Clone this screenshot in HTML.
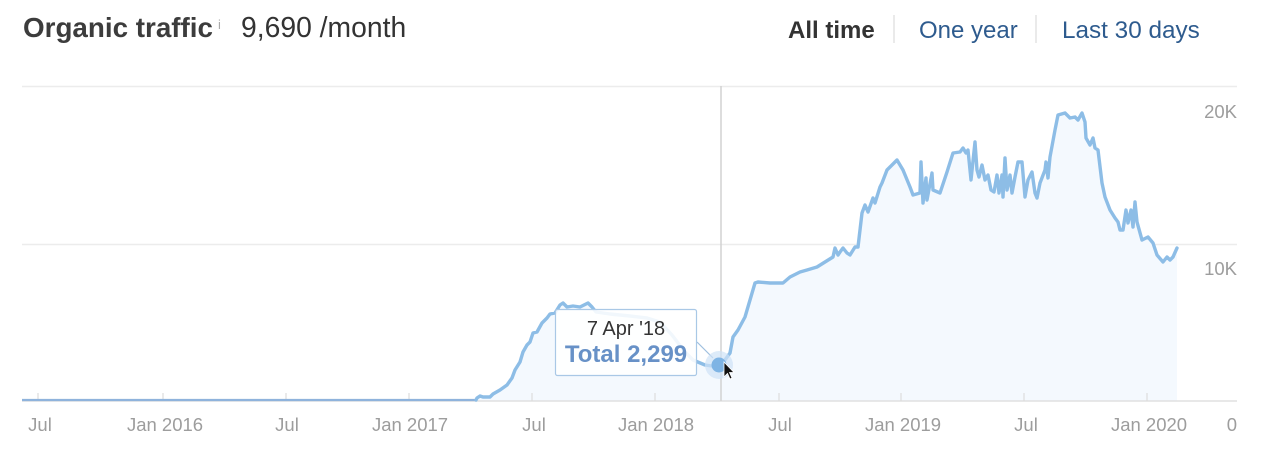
<!DOCTYPE html>
<html>
<head>
<meta charset="utf-8">
<style>
  html,body{margin:0;padding:0;background:#fff;}
  body{width:1264px;height:458px;overflow:hidden;position:relative;font-family:"Liberation Sans",Arial,sans-serif;}
  svg{position:absolute;left:0;top:0;}
</style>
</head>
<body>
<svg width="1264" height="458" viewBox="0 0 1264 458" xmlns="http://www.w3.org/2000/svg" font-family="Liberation Sans, Arial, sans-serif">
  <!-- header -->
  <text x="23" y="37" font-size="27.8" font-weight="bold" fill="#3c3c3c">Organic traffic</text>
  <text x="218" y="29" font-size="13" fill="#aaa">i</text>
  <text x="241" y="37" font-size="28.3" fill="#333">9,690 /month</text>

  <text x="788" y="38" font-size="24" font-weight="bold" fill="#333">All time</text>
  <line x1="894" y1="15" x2="894" y2="43" stroke="#e2e2e2" stroke-width="1.5"/>
  <text x="919" y="38" font-size="24" fill="#2e5b8e">One year</text>
  <line x1="1036" y1="15" x2="1036" y2="43" stroke="#e2e2e2" stroke-width="1.5"/>
  <text x="1062" y="38" font-size="24.3" fill="#2e5b8e">Last 30 days</text>

  <!-- grid -->
  <line x1="22" y1="86.5" x2="1237" y2="86.5" stroke="#ececec" stroke-width="1.5"/>
  <line x1="22" y1="244.5" x2="1237" y2="244.5" stroke="#ececec" stroke-width="1.5"/>

  <!-- area -->
  <path fill="#f4f9fe" d="M22,401 L22,400 L476,400 L477,398 L480,396 L483,397 L490,397 L493,394 L500,390 L507,385 L512,378 L515,370 L520,362 L523,352 L527,345 L530,342 L533,333 L537,332 L542,323 L547,318 L550,314 L555,313 L560,305 L563,303 L567,307 L573,306 L580,307 L588,303 L592,307 L596,312 L610,314 L630,316 L647,318 L660,322 L672,335 L685,352 L693,360 L705,365 L712,366 L719,365 L725,360 L730,353 L733,337 L738,330 L745,317 L750,300 L755,283 L758,282 L770,283 L783,283 L790,277 L800,272 L807,270 L817,267 L825,262 L833,257 L835,248 L838,255 L840,252 L843,248 L847,253 L850,255 L855,247 L858,247 L860,230 L862,213 L865,205 L868,212 L873,198 L875,203 L880,187 L882,183 L887,170 L890,167 L895,162 L897,160 L900,165 L903,170 L910,187 L913,195 L920,193 L921,162 L923,203 L926,178 L927,200 L932,173 L933,190 L940,193 L947,172 L953,153 L960,152 L963,148 L966,153 L968,150 L971,180 L975,142 L977,170 L979,177 L982,165 L985,180 L988,175 L991,190 L994,192 L997,175 L999,193 L1002,175 L1003,197 L1005,158 L1007,190 L1010,175 L1012,193 L1015,177 L1018,162 L1022,162 L1025,197 L1028,180 L1032,172 L1035,193 L1037,198 L1040,183 L1045,170 L1046,162 L1048,178 L1050,157 L1055,130 L1058,115 L1065,113 L1070,118 L1075,117 L1078,120 L1082,113 L1085,122 L1086,138 L1090,145 L1093,138 L1095,148 L1098,150 L1102,183 L1105,197 L1110,210 L1115,218 L1118,222 L1120,230 L1123,230 L1126,210 L1128,223 L1131,210 L1133,227 L1135,202 L1137,222 L1142,240 L1148,237 L1153,243 L1157,255 L1163,262 L1167,257 L1170,260 L1173,257 L1177,248 L1177,401 Z"/>

  <!-- baseline & ticks -->
  <line x1="22" y1="401" x2="1237" y2="401" stroke="#e0e0e0" stroke-width="1.5"/>
  <g stroke="#dcdcdc" stroke-width="1.2">
    <line x1="38" y1="393" x2="38" y2="401"/>
    <line x1="163" y1="393" x2="163" y2="401"/>
    <line x1="286" y1="393" x2="286" y2="401"/>
    <line x1="409" y1="393" x2="409" y2="401"/>
    <line x1="532" y1="393" x2="532" y2="401"/>
    <line x1="655" y1="393" x2="655" y2="401"/>
    <line x1="779" y1="393" x2="779" y2="401"/>
    <line x1="901" y1="393" x2="901" y2="401"/>
    <line x1="1024" y1="393" x2="1024" y2="401"/>
    <line x1="1147" y1="393" x2="1147" y2="401"/>
  </g>

  <!-- crosshair -->
  <line x1="721" y1="86" x2="721" y2="401" stroke="#d2d2d2" stroke-width="1.5"/>

  <!-- flat part (thinner) -->
  <path fill="none" stroke="#8fb3dc" stroke-width="2.2" d="M22,400 L476,400"/>
  <!-- line -->
  <path fill="none" stroke="#8dbde6" stroke-width="3.4" stroke-linejoin="round" stroke-linecap="round" d="M476,400 L477,398 L480,396 L483,397 L490,397 L493,394 L500,390 L507,385 L512,378 L515,370 L520,362 L523,352 L527,345 L530,342 L533,333 L537,332 L542,323 L547,318 L550,314 L555,313 L560,305 L563,303 L567,307 L573,306 L580,307 L588,303 L592,307 L596,312 L610,314 L630,316 L647,318 L660,322 L672,335 L685,352 L693,360 L705,365 L712,366 L719,365 L725,360 L730,353 L733,337 L738,330 L745,317 L750,300 L755,283 L758,282 L770,283 L783,283 L790,277 L800,272 L807,270 L817,267 L825,262 L833,257 L835,248 L838,255 L840,252 L843,248 L847,253 L850,255 L855,247 L858,247 L860,230 L862,213 L865,205 L868,212 L873,198 L875,203 L880,187 L882,183 L887,170 L890,167 L895,162 L897,160 L900,165 L903,170 L910,187 L913,195 L920,193 L921,162 L923,203 L926,178 L927,200 L932,173 L933,190 L940,193 L947,172 L953,153 L960,152 L963,148 L966,153 L968,150 L971,180 L975,142 L977,170 L979,177 L982,165 L985,180 L988,175 L991,190 L994,192 L997,175 L999,193 L1002,175 L1003,197 L1005,158 L1007,190 L1010,175 L1012,193 L1015,177 L1018,162 L1022,162 L1025,197 L1028,180 L1032,172 L1035,193 L1037,198 L1040,183 L1045,170 L1046,162 L1048,178 L1050,157 L1055,130 L1058,115 L1065,113 L1070,118 L1075,117 L1078,120 L1082,113 L1085,122 L1086,138 L1090,145 L1093,138 L1095,148 L1098,150 L1102,183 L1105,197 L1110,210 L1115,218 L1118,222 L1120,230 L1123,230 L1126,210 L1128,223 L1131,210 L1133,227 L1135,202 L1137,222 L1142,240 L1148,237 L1153,243 L1157,255 L1163,262 L1167,257 L1170,260 L1173,257 L1177,248"/>

  <!-- tooltip -->
  <line x1="697" y1="342" x2="713" y2="358" stroke="#9fbfdf" stroke-width="1.2"/>
  <rect x="555.5" y="309.5" width="141" height="66" rx="2" fill="#ffffff" fill-opacity="0.88" stroke="#a9c8e6" stroke-width="1.2"/>
  <text x="626" y="335" font-size="20" fill="#333" text-anchor="middle">7 Apr '18</text>
  <text x="626" y="362" font-size="24" font-weight="bold" fill="#6791c7" text-anchor="middle">Total 2,299</text>

  <!-- dot -->
  <circle cx="719" cy="365" r="14" fill="#cfe3f6" fill-opacity="0.7"/>
  <circle cx="719" cy="365" r="7.5" fill="#7fb4e4"/>

  <!-- cursor -->
  <path d="M724,362 L724,377 L727.5,373.5 L730,379 L732,378 L729.5,372.5 L734,372.5 Z" fill="#111" stroke="#fff" stroke-width="0.8"/>

  <!-- axis labels -->
  <g font-size="18.5" fill="#9d9d9d" text-anchor="middle">
    <text x="40" y="431">Jul</text>
    <text x="165" y="431">Jan 2016</text>
    <text x="287" y="431">Jul</text>
    <text x="410" y="431">Jan 2017</text>
    <text x="534" y="431">Jul</text>
    <text x="656" y="431">Jan 2018</text>
    <text x="780" y="431">Jul</text>
    <text x="903" y="431">Jan 2019</text>
    <text x="1026" y="431">Jul</text>
    <text x="1149" y="431">Jan 2020</text>
  </g>
  <g font-size="18.5" fill="#9d9d9d" text-anchor="end">
    <text x="1237" y="118">20K</text>
    <text x="1237" y="275">10K</text>
    <text x="1237" y="431">0</text>
  </g>
</svg>
</body>
</html>
